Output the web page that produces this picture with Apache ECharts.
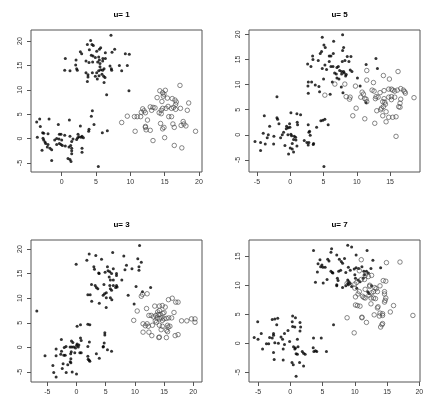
<!DOCTYPE html>
<html><head><meta charset="utf-8">
<script src="https://cdn.jsdelivr.net/npm/echarts@6/dist/echarts.min.js"></script>
<style>html,body{margin:0;padding:0;background:#fff}#c{width:436px;height:420px}</style>
</head><body><div id="c"></div>
<script>
const titles = ['u= 1', 'u= 5', 'u= 3', 'u= 7'];
const xTicks = [[0,5,10,15,20],[-5,0,5,10,15],[-5,0,5,10,15,20],[-5,0,5,10,15,20]];
const yTicks = [[-5,0,5,10,15,20],[-5,0,5,10,15,20],[-5,0,5,10,15,20],[-5,0,5,10,15]];
const xRanges = [[-4.47,20.44],[-6.2,19.5],[-7.8,21.5],[-6.4,20.1]];
const yRanges = [[-6.84,22.25],[-7.39,20.86],[-7.03,21.83],[-6.67,17.8]];

const p1Filled = [[7.18,21.2],[4.22,20.1],[3.74,19.3],[4.42,19.3],[4.61,19.1],[7.72,18.3],[7.33,17.7],[2.72,17.8],[2.91,17.4],[4.03,18.2],[5.49,18.3],[5.68,18.6],[5.1,17.9],[6.36,17.6],[9.27,17.4],[9.85,17.3],[0.53,16.4],[2.09,16.1],[3.54,15.9],[4.32,17.1],[4.56,16.9],[4.9,16.6],[5.39,16.7],[5.49,16.1],[5.24,15.7],[5.58,15.4],[4.51,15.7],[3.98,15.6],[6.0,16.4],[6.36,16.4],[5.97,15.9],[2.04,15.1],[2.18,14.3],[2.28,14.0],[0.44,14.0],[1.21,13.9],[7.04,14.9],[8.4,15.0],[9.56,15.0],[7.23,14.3],[7.28,14.0],[8.74,13.9],[3.54,13.5],[3.83,13.1],[3.83,12.6],[3.74,11.7],[4.47,13.5],[5.1,13.5],[5.39,13.9],[5.68,14.1],[5.58,14.7],[5.97,14.0],[6.17,14.3],[4.9,12.8],[5.44,12.9],[5.87,13.2],[6.12,12.8],[6.31,12.5],[6.17,11.5],[5.19,12.2],[6.55,9.0],[9.8,9.8],
[-3.2,4.0],[-3.64,3.4],[-1.84,4.0],[1.12,3.8],[-3.11,2.5],[-0.49,2.9],[4.47,5.7],[4.32,4.6],[4.71,2.9],[3.98,1.9],[3.93,1.5],[2.72,2.6],[-2.77,1.2],[-2.62,1.1],[-1.99,1.0],[-0.34,0.9],[-0.1,0.9],[0.44,0.7],[1.21,0.5],[-3.55,0.3],[-2.72,0.07],[-2.62,-0.3],[-0.73,0],[-0.39,-0.1],[-1.02,-0.3],[-2.43,-0.7],[-2.33,-1.0],[-1.99,-1.2],[0,-0.3],[-0.73,-1.2],[-0.34,-1.0],[-0.1,-1.2],[0.1,-1.4],[0.53,-1.5],[1.07,-1.7],[1.31,-1.4],[1.46,-0.6],[1.65,-0.1],[2.18,-0.2],[2.33,0.2],[2.52,0.4],[2.82,0.3],[2.96,0.5],[3.16,0.2],[2.38,0.9],[-2.09,-1.7],[-1.7,-2.0],[-1.46,-2.3],[-2.86,-2.4],[1.46,-2.0],[1.46,-2.5],[1.46,-3.1],[2.96,-2.0],[2.96,-2.8],[0.92,-4.1],[1.21,-4.3],[1.36,-4.7],[-1.46,-4.5],[5.34,-5.7],[5.92,1.2],[6.65,1.6]];
const p1Open = [[17.23,10.9],[15.1,9.9],[14.3,9.8],[14.7,9.4],[14.9,9.1],[14.8,8.7],[13.9,8.4],[16.1,8.2],[16.5,7.9],[16.7,7.5],[14.6,7.6],[18.5,7.3],[16.6,7.0],[14.7,6.2],[15.2,6.2],[16.0,6.2],[16.3,6.4],[16.6,6.0],[17.3,6.2],[18.3,5.8],[12.9,6.5],[13.3,6.4],[13.6,6.3],[13.1,5.8],[11.8,6.1],[12.0,5.7],[12.2,5.3],[11.6,5.4],[14.2,5.3],[14.5,5.1],[9.56,4.6],[10.6,4.5],[11.0,4.5],[11.5,4.5],[15.6,4.5],[16.0,4.5],[12.5,3.8],[8.74,3.3],[14.4,3.1],[16.2,3.0],[17.7,3.5],[17.8,3.0],[17.4,2.7],[18.1,2.6],[12.2,2.5],[12.2,2.3],[12.3,1.8],[12.9,1.7],[14.9,2.3],[14.7,2.0],[16.4,2.3],[10.7,1.5],[19.5,1.5],[15.0,0.2],[13.3,-0.4],[16.4,-1.4],[17.5,-1.9],[14.5,5.8],[15.5,6.6],[15.4,8.3]];

const p2Filled = [[4.81,19.4],[7.87,19.9],[5.06,17.9],[5.26,17.4],[6.52,18.6],[8.02,17.4],[7.87,16.8],[6.47,16.2],[4.71,16.6],[4.51,16.2],[3.36,15.7],[3.41,15.0],[2.61,14.1],[3.11,13.6],[4.21,14.8],[5.86,15.7],[6.11,15.7],[5.86,14.6],[5.21,13.9],[4.81,13.2],[6.11,13.6],[6.42,13.6],[5.46,13.0],[7.02,13.4],[7.22,13.6],[7.82,14.6],[8.22,14.8],[8.57,15.6],[9.12,15.6],[8.82,14.6],[12.88,15.2],[11.4,14.0],[13.1,13.2],[7.42,12.8],[7.72,12.6],[8.02,12.6],[9.02,12.9],[9.27,12.6],[6.67,12.3],[6.92,12.1],[7.72,12.1],[8.12,12.3],[8.42,12.0],[7.02,11.3],[7.32,11.1],[5.01,11.1],[6.32,10.5],[2.71,10.5],[3.21,10.5],[3.76,9.9],[4.31,9.6],[2.66,9.7],[7.67,9.5],[10.1,11.3],[10.5,9.7],[2.71,8.3],[4.41,8.6],[6.0,8.1],[7.92,8.4],[11.4,6.4],[-2.0,7.6],[8.32,11.7],
[-3.9,3.8],[-2.0,3.4],[-1.9,3.1],[0.1,4.4],[1.0,4.2],[1.55,4.0],[-3.1,1.7],[-1.7,2.2],[-0.1,2.2],[1.05,2.5],[1.1,2.0],[2.7,2.0],[-0.55,1.7],[-0.3,1.4],[-0.6,1.2],[-0.05,1.5],[-1.0,0.5],[-1.2,0],[-0.35,0],[0.1,0.1],[0.2,-0.2],[-4.06,0.3],[-3.3,0],[-3.46,-0.6],[-2.46,-0.3],[-1.45,-0.6],[0.6,-0.3],[0.8,-0.5],[0.5,-0.9],[0.85,-1.0],[2.1,-1.1],[2.5,-1.5],[3.0,-0.1],[2.8,0.5],[2.9,0.7],[3.96,1.5],[-5.3,-1.3],[-4.46,-1.5],[-3.76,-1.8],[-2.5,-1.8],[-0.8,-2.1],[0.3,-1.7],[1.0,-2.2],[0,-2.6],[0.3,-2.8],[0.5,-3.4],[-0.25,-3.8],[-4.46,-3.1],[2.7,-2.0],[3.5,-1.7],[3.46,-1.9],[4.6,2.8],[4.9,2.9],[5.2,3.1],[5.7,2.0],[5.06,-6.3],[2.8,-1.5]];
const p2Open = [[5.2,7.9],[6.7,10.1],[8.2,10.1],[8.4,7.6],[9.0,7.5],[8.9,7.1],[9.8,9.7],[9.9,5.3],[9.4,3.8],[10.8,8.5],[11.0,8.1],[10.6,7.5],[11.2,7.2],[11.4,7.1],[11.5,6.6],[11.2,3.2],[11.5,12.8],[11.5,10.9],[12.5,10.4],[12.3,8.9],[12.6,8.7],[12.8,7.2],[12.9,7.6],[13.2,7.5],[14.0,11.8],[14.9,11.1],[13.5,8.4],[14.1,8.8],[14.8,9.1],[15.2,9.1],[15.4,8.9],[15.7,8.7],[16.1,8.9],[16.6,9.2],[17.0,8.9],[17.2,8.6],[17.3,8.3],[16.2,12.6],[18.6,7.4],[14.8,7.5],[15.2,7.6],[15.7,7.5],[15.2,7.0],[16.6,7.1],[16.5,6.3],[16.3,5.6],[16.5,5.5],[13.9,6.6],[14.2,6.5],[14.3,6.1],[14.0,5.6],[13.7,5.3],[13.6,5.0],[13.0,4.8],[14.4,4.6],[13.9,3.8],[14.8,3.5],[15.4,3.5],[15.9,3.6],[14.4,2.6],[12.7,2.3],[15.9,-0.3],[14.1,7.2]];

const p3Filled = [[-6.8,7.4],[10.8,20.7],[2.17,19.0],[3.3,18.7],[6.2,19.3],[8.1,18.6],[1.77,17.7],[4.28,17.9],[-0.06,16.9],[10.5,18.0],[11.1,17.3],[8.56,16.7],[2.97,16.4],[3.08,15.9],[5.3,16.4],[6.3,16.0],[8.3,15.8],[9.5,16.0],[10.7,16.4],[10.7,15.7],[3.8,15.1],[3.88,15.0],[4.9,15.3],[5.4,15.6],[5.7,15.4],[6.0,15.0],[6.85,15.0],[5.6,14.3],[5.8,13.7],[6.85,14.6],[6.3,13.7],[7.76,13.7],[2.57,12.8],[3.2,12.6],[3.4,12.2],[3.65,11.9],[4.7,12.8],[5.7,12.6],[5.8,11.9],[6.0,11.6],[6.3,12.6],[6.7,12.2],[6.85,12.6],[6.96,12.3],[10.2,12.4],[12.7,12.2],[11.3,11.3],[4.8,10.9],[5.1,11.1],[1.94,10.7],[2.34,10.7],[4.56,10.6],[5.1,10.1],[5.8,10.1],[6.05,9.7],[8.85,10.6],[2.6,9.4],[3.9,9.0],[5.08,8.1],[9.87,8.8],
[0.1,4.3],[0.68,4.6],[1.94,4.7],[2.28,4.6],[4.85,2.5],[-2.6,1.6],[-0.86,1.3],[-0.63,1.0],[0.68,1.9],[0.8,1.4],[2.2,1.1],[0.1,0.7],[0.4,0.5],[0,0.4],[-1.8,0.2],[-1.1,0.1],[-0.8,0.1],[-0.46,0.1],[-0.17,-0.1],[0.3,0.1],[1.94,0.2],[4.74,0.9],[4.6,0.2],[-3.5,-0.3],[-2.1,0],[-2.57,-0.8],[-0.9,-0.9],[-0.3,-1.1],[0.57,-1.1],[0.8,-1.1],[-2.17,-1.6],[-1.94,-1.6],[-3.5,-1.7],[-5.4,-1.7],[-1.0,-1.3],[-0.97,-2.3],[-1.08,-2.9],[-0.97,-3.1],[1.94,-1.8],[2.0,-2.4],[2.17,-2.6],[2.28,-2.8],[3.4,-1.3],[3.9,-2.2],[4.56,0.1],[5.3,-0.5],[6.0,-0.8],[-2.3,-3.3],[-1.5,-3.5],[-4.05,-3.7],[-2.45,-4.3],[-3.9,-5.1],[-1.77,-5.1],[-0.74,-5.0],[0,-5.4],[-3.5,-6.0],[-2.7,-1.4],[4.85,3.0]];
const p3Open = [[11.3,10.8],[12.1,10.9],[11.1,10.4],[15.75,9.7],[16.4,10.0],[17.0,9.2],[17.4,9.2],[10.4,7.4],[12.0,7.9],[13.4,8.4],[14.2,8.4],[14.7,8.5],[15.2,8.2],[14.2,7.5],[13.9,7.2],[12.4,6.5],[12.8,6.5],[13.2,6.2],[13.6,6.5],[14.0,6.7],[14.3,6.7],[14.8,6.9],[15.0,7.1],[13.8,6.0],[14.2,5.8],[14.5,6.0],[15.0,5.8],[15.4,5.9],[15.8,6.0],[16.3,6.0],[16.7,7.1],[13.5,5.4],[13.7,5.1],[14.7,5.5],[9.8,5.5],[11.4,4.8],[11.8,4.4],[12.1,4.8],[12.3,4.3],[13.0,4.5],[14.2,4.5],[14.7,4.3],[15.6,4.5],[16.0,4.3],[15.7,4.1],[14.5,3.6],[15.4,3.5],[15.6,3.2],[11.4,3.1],[12.4,3.1],[12.9,2.4],[14.1,2.0],[14.2,2.1],[15.4,2.0],[17.4,2.6],[16.9,2.4],[18.0,5.4],[18.9,5.4],[19.7,5.8],[20.3,5.8],[20.3,5.1]];

const p4Filled = [[8.9,16.9],[9.5,16.6],[6.4,16.3],[3.6,16.0],[11.9,16.0],[7.2,15.2],[10.2,15.2],[6.3,15.7],[12.8,14.3],[7.6,14.5],[8.4,14.6],[7.9,14.1],[4.6,14.4],[5.8,14.5],[6.0,14.2],[4.9,13.5],[4.7,13.2],[5.05,13.1],[5.4,13.1],[4.3,13.7],[8.1,13.8],[9.0,13.1],[9.3,12.6],[9.9,12.8],[10.2,13.0],[10.6,12.9],[11.1,13.2],[11.4,12.4],[11.8,12.4],[12.1,12.1],[12.5,12.9],[14.0,13.0],[6.3,12.4],[6.5,12.2],[6.6,12.1],[7.5,12.4],[7.8,12.6],[8.6,12.2],[4.2,12.3],[10.0,11.8],[10.1,11.2],[11.5,11.8],[11.3,11.2],[10.5,10.9],[10.8,10.6],[7.3,11.2],[7.4,10.8],[8.9,10.9],[9.1,10.6],[8.9,10.3],[9.3,10.3],[9.0,10.1],[8.6,9.9],[9.5,9.8],[8.1,9.6],[7.2,10.1],[7.2,9.9],[3.9,10.5],[5.1,10.4],[5.7,11.0],[10.3,9.5],[12.0,8.9],[12.2,8.6],[12.6,9.9],[6.7,3.2],
[0.36,4.7],[0.8,4.4],[-2.8,4.1],[-2.4,4.2],[-1.95,4.3],[-5.05,3.7],[-2.1,3.2],[0.3,3.7],[1.5,3.6],[0.36,2.9],[0.7,2.8],[1.6,2.8],[-0.36,2.2],[-4.5,1.7],[-2.6,1.7],[-2.6,1.4],[-1.44,1.1],[-0.9,1.7],[1.5,2.1],[-5.6,1.0],[-5.0,0.7],[-3.2,1.0],[-2.8,0.9],[-1.2,0.7],[1.1,0.7],[3.6,0.9],[4.8,0.9],[-0.1,0.3],[-2.4,0.1],[-1.85,0],[-0.9,-0.2],[-3.7,-0.1],[-3.35,-0.1],[-4.3,-1.0],[-1.1,-1.0],[0.5,-0.6],[0.7,-1.0],[0.8,-0.8],[1.2,-0.6],[3.55,-0.75],[3.65,-1.4],[3.9,-1.3],[4.1,-1.4],[5.6,-1.4],[0.9,-1.8],[1.1,-1.9],[1.85,-1.4],[2.06,-1.7],[2.3,-1.9],[-2.6,-1.6],[-2.5,-2.8],[-1.1,-2.9],[0.26,-3.3],[1.44,-3.3],[0.46,-3.7],[2.06,-3.9],[0.9,-5.7]];
const p4Open = [[17.0,14.0],[14.9,13.9],[11.0,14.4],[10.7,12.5],[11.6,11.7],[12.6,11.7],[12.1,11.5],[11.0,11.0],[14.4,10.8],[14.8,10.7],[12.3,10.0],[12.3,9.8],[13.9,9.9],[10.0,10.2],[10.3,10.5],[8.8,10.3],[10.0,9.5],[11.6,9.3],[13.1,9.6],[13.3,9.4],[12.9,8.9],[12.6,8.7],[13.5,8.9],[14.6,8.9],[14.6,8.5],[10.7,8.9],[10.5,8.5],[10.1,8.0],[11.2,8.1],[11.4,7.9],[11.6,7.8],[12.2,8.3],[12.5,7.8],[12.9,7.8],[13.2,7.7],[14.7,7.4],[14.8,7.8],[14.6,7.1],[12.5,6.8],[16.0,6.5],[10.1,6.6],[10.4,6.5],[10.8,6.4],[13.5,6.1],[13.6,6.3],[13.9,5.2],[14.3,5.1],[13.8,4.7],[13.0,4.9],[15.5,5.4],[11.1,4.5],[11.1,4.4],[8.8,4.4],[19.0,4.8],[14.3,3.4],[14.2,3.2],[14.0,2.8],[11.8,3.6],[9.9,1.8],[14.3,4.8],[11.5,11.0]];

const filledSets = [p1Filled, p2Filled, p3Filled, p4Filled];
const openSets = [p1Open, p2Open, p3Open, p4Open];

const gridPos = [[31,30],[249,30],[31,240],[249,240]];
const GW = 171, GH = 142;
const font = 'Liberation Sans, Arial, Helvetica, sans-serif';

const grids = [], xAxes = [], yAxes = [], series = [], titleOpts = [];
for (let i = 0; i < 4; i++) {
  const [l, t] = gridPos[i];
  grids.push({left: l, top: t, width: GW, height: GH, show: true, borderColor: '#555', borderWidth: 1, backgroundColor: 'transparent', containLabel: false});
  xAxes.push({
    type: 'value', gridIndex: i, min: xRanges[i][0], max: xRanges[i][1], position: 'bottom',
    axisLine: {show: false, onZero: false}, splitLine: {show: false},
    axisTick: {show: true, inside: false, length: 4, customValues: xTicks[i], lineStyle: {color: '#555', width: 1}},
    axisLabel: {show: true, customValues: xTicks[i], margin: 7, fontSize: 7, color: '#333', fontFamily: font, showMinLabel: true, showMaxLabel: true}
  });
  yAxes.push({
    type: 'value', gridIndex: i, min: yRanges[i][0], max: yRanges[i][1], position: 'left',
    axisLine: {show: false, onZero: false}, splitLine: {show: false},
    axisTick: {show: true, inside: false, length: 4, customValues: yTicks[i], lineStyle: {color: '#555', width: 1}},
    axisLabel: {show: true, customValues: yTicks[i], rotate: 90, margin: 7, fontSize: 7, color: '#333', fontFamily: font, align: 'center', verticalAlign: 'bottom'}
  });
  series.push({
    type: 'scatter', xAxisIndex: i, yAxisIndex: i, data: filledSets[i],
    symbol: 'circle', symbolSize: 3, itemStyle: {color: '#000'}, silent: true
  });
  series.push({
    type: 'scatter', xAxisIndex: i, yAxisIndex: i, data: openSets[i],
    symbol: 'circle', symbolSize: 4.5, itemStyle: {color: 'rgba(0,0,0,0)', borderColor: '#444', borderWidth: 0.8}, silent: true
  });
  titleOpts.push({
    text: titles[i], left: l + GW / 2, top: t - 24, textAlign: 'center',
    textStyle: {fontSize: 8, fontWeight: 'bold', color: '#000', fontFamily: font}
  });
}

const chart = echarts.init(document.getElementById('c'), null, {renderer: 'canvas'});
chart.setOption({
  animation: false,
  backgroundColor: '#fff',
  title: titleOpts,
  grid: grids, xAxis: xAxes, yAxis: yAxes, series: series
});
</script></body></html>
